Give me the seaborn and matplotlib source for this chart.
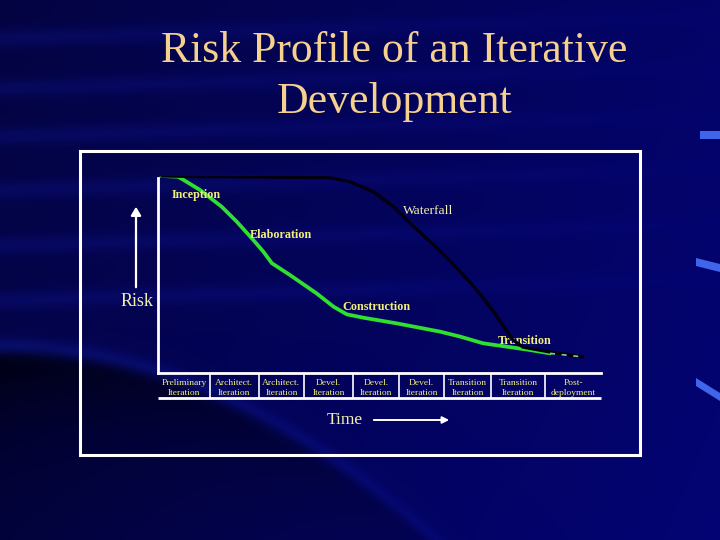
"""
Risk profile of an iterative development (slide recreation)
"""

import numpy as np
import pandas as pd
import matplotlib
matplotlib.use('Agg')
import matplotlib.pyplot as plt
import seaborn as sns
from matplotlib.patches import Rectangle, Polygon, FancyArrowPatch

# Data: time (0-100) vs risk (0-100)
iter_t = [0.8, 4.6, 9.5, 14.4, 17.8, 21.5, 23.8, 25.7, 29.8, 35.8, 39.6, 42.6,
          46.3, 53.9, 63.7, 68.2, 73.4, 78.7, 84.0, 88.5]
iter_risk = [100, 99.6, 92.9, 84.4, 76.8, 67.6, 61.6, 55.8, 49.8, 40.5, 33.8, 29.9,
             28.2, 25.3, 21.1, 18.6, 15.2, 13.5, 11.8, 10.1]
tail_t = [88.5, 95.9]
tail_risk = [10.1, 8.3]
water_t = [0.9, 38.8, 43.3, 48.6, 53.0, 57.6, 62.5, 67.0, 70.4, 73.4, 76.3, 78.3,
           80.1, 82.4, 88.5, 95.9]
water_risk = [100, 99.1, 97.1, 92.0, 84.8, 74.7, 64.5, 54.4, 46.3, 38.2, 29.5, 22.9,
              16.9, 13.3, 10.8, 8.3]

phase_labels = ['Inception', 'Elaboration', 'Construction', 'Transition']
phase_t = [3.1, 20.8, 41.7, 76.6]
phase_risk = [90.4, 70.1, 33.8, 16.6]

cell_edges = [0, 11.7, 22.7, 33.0, 44.0, 54.4, 64.6, 75.2, 87.4, 100]
cell_labels = ['Preliminary\nIteration', 'Architect.\nIteration', 'Architect.\nIteration',
               'Devel.\nIteration', 'Devel.\nIteration', 'Devel.\nIteration',
               'Transition\nIteration', 'Transition\nIteration', 'Post-\ndeployment']

YELLOW = '#f2f07a'
PALE = '#f2f0b0'
TITLE = '#f6d08e'

sns.set_theme(style='white')
plt.rcParams['font.family'] = ['Liberation Serif', 'DejaVu Serif']

W, H = 720, 540
fig = plt.figure(figsize=(7.2, 5.4), dpi=100)
fig.patch.set_facecolor('#06065c')


def fx(x):
    return x / W


def fy(y):
    return 1 - y / H


# slide background: navy gradient, soft streaks, dark swoosh lower left
yy, xx = np.mgrid[0:H, 0:W].astype(float)
r = np.full((H, W), 3.0)
g = np.full((H, W), 3.0)
b = 66 + 38 * xx / W + 12 * yy / H
for yc in [38, 88, 136, 190, 245, 300]:
    streak = np.exp(-((yy - yc + 0.03 * xx) / 9) ** 2) * np.clip(1 - xx / 800, 0, 1)
    r += 4 * streak
    g += 6 * streak
    b += 24 * streak
yb = 353 - 0.0073 * xx + 0.001028 * xx ** 2
d = yb - yy
band = np.exp(-((d - 6) / 9) ** 2) * np.clip(1 - xx / 700, 0, 1)
r += 6 * band
g += 12 * band
b += 40 * band
depth = np.clip(yy - yb, 0, None)
dark = 1 / (1 + np.exp(-(yy - yb) / 4)) * np.clip(1 - xx / 550, 0.2, 1)
dark *= 0.25 + 0.75 * np.exp(-depth / 70)
r *= 1 - 0.9 * dark
g *= 1 - 0.9 * dark
b *= 1 - 0.8 * dark
img = np.clip(np.dstack([r, g, b]) / 255, 0, 1)
bg = fig.add_axes([0, 0, 1, 1], zorder=-5)
bg.imshow(img, extent=[0, W, H, 0], aspect='auto')
bg.axis('off')

# title
fig.text(fx(394), fy(62), 'Risk Profile of an Iterative', ha='center', va='baseline',
         fontsize=31.5, color=TITLE)
fig.text(fx(394), fy(113), 'Development', ha='center', va='baseline',
         fontsize=31.5, color=TITLE)

# white frame
fig.add_artist(Rectangle((fx(80), fy(455)), 560 / W, 304 / H, transform=fig.transFigure,
                         fill=False, ec='white', lw=2.2))

# small decorations at the right edge
for pts in [[(700, 131), (720, 131), (720, 139), (700, 139)],
            [(696, 258), (720, 264), (720, 272), (696, 266)],
            [(696, 378), (720, 393), (720, 401), (696, 386)]]:
    fig.add_artist(Polygon([(fx(a), fy(c)) for a, c in pts], transform=fig.transFigure,
                           fc='#3f66ea', ec='none'))

# chart axes
ax = fig.add_axes([fx(158), fy(373.3), 443 / W, 197.3 / H])
ax.set_facecolor('none')
ax.set_xlim(0, 100)
ax.set_ylim(0, 100)
ax.set_xticks([])
ax.set_yticks([])
for s in ['top', 'right']:
    ax.spines[s].set_visible(False)
for s in ['left', 'bottom']:
    ax.spines[s].set_color('white')
    ax.spines[s].set_linewidth(2)
ax.spines['left'].set_bounds(0, 99)

df_iter = pd.DataFrame({'t': iter_t, 'risk': iter_risk})
df_water = pd.DataFrame({'t': water_t, 'risk': water_risk})
sns.lineplot(data=df_iter, x='t', y='risk', ax=ax, color='#2fe02f', linewidth=2.7,
             sort=False, estimator=None, zorder=2)
sns.lineplot(data=df_water, x='t', y='risk', ax=ax, color='#000010', linewidth=2.4,
             sort=False, estimator=None, zorder=3)
ax.plot(tail_t, tail_risk, color='#7fd07f', lw=1.2, ls=(0, (3, 4)), zorder=4)
ax.set_xlabel('')
ax.set_ylabel('')

for lab, t, rk in zip(phase_labels, phase_t, phase_risk):
    ax.text(t, rk, lab, fontsize=8.7, fontweight='bold', color=YELLOW,
            ha='left', va='center', zorder=2.5)
ax.text(55.3, 82.2, 'Waterfall', fontsize=9.7, color=PALE, ha='left', va='center')

# iteration cells under the time axis
row_bottom = -12.7
ax.hlines(row_bottom, 0, 100, color='white', lw=2, clip_on=False)
ax.vlines(cell_edges[1:-1], row_bottom, 0, color='white', lw=1.2, clip_on=False)
for i, lab in enumerate(cell_labels):
    mid = (cell_edges[i] + cell_edges[i + 1]) / 2
    ax.text(mid, -7.3, lab, fontsize=6.8, color=YELLOW, ha='center',
            va='center', linespacing=1.3, clip_on=False)

# axis captions with arrows
fig.text(fx(154), fy(301), 'Risk', ha='right', va='center', fontsize=13, color=PALE)
fig.text(fx(345), fy(420), 'Time', ha='center', va='center', fontsize=12.6, color=PALE)
fig.add_artist(FancyArrowPatch(
    (fx(136), fy(290)), (fx(136), fy(204)), transform=fig.transFigure,
    arrowstyle='-|>,head_length=5,head_width=3', color='white', lw=1.6))
fig.add_artist(FancyArrowPatch(
    (fx(371), fy(420)), (fx(452), fy(420)), transform=fig.transFigure,
    arrowstyle='-|>,head_length=4,head_width=2', color='white', lw=1.4))

plt.savefig('out.png', dpi=100, facecolor=fig.get_facecolor())
plt.close()
